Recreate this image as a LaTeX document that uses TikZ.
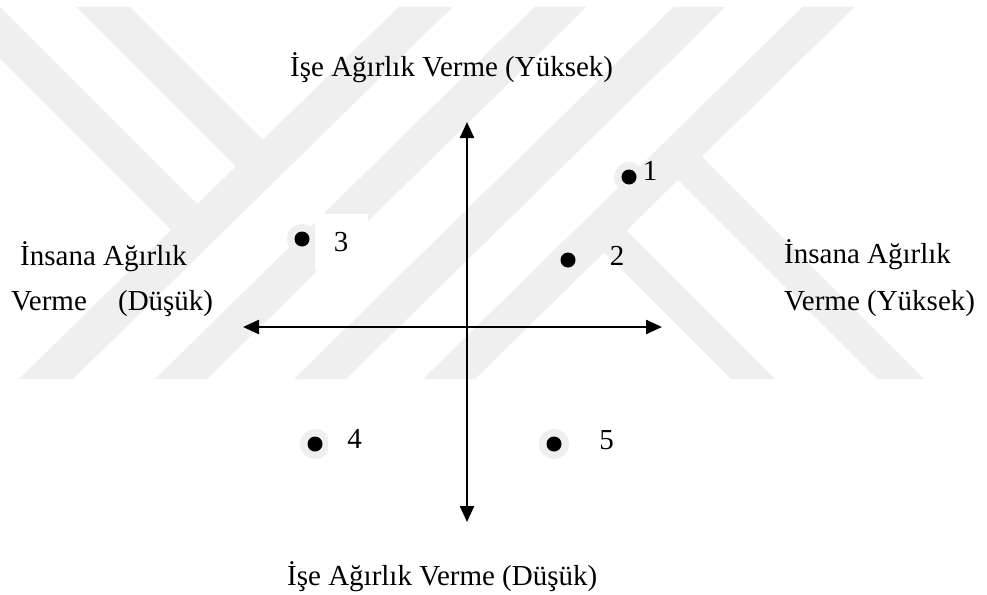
\documentclass[tikz,border=0pt]{standalone}
\usepackage{fontspec}
\setmainfont{Liberation Serif}
\usetikzlibrary{arrows.meta}
\definecolor{wm}{RGB}{239,239,239}
\begin{document}
\begin{tikzpicture}[x=1pt,y=-1pt,
  lbl/.style={inner sep=0pt, font=\fontsize{29}{34}\selectfont},
  numbox/.style={lbl, fill=white, minimum width=53pt, minimum height=57pt},
  axisline/.style={line width=2.4pt, {Triangle[length=16pt,width=14pt]}-{Triangle[length=16pt,width=14pt]}},
  dot/.style={circle, fill=black, inner sep=0pt, minimum size=15pt, preaction={draw=wm, line width=15pt}},
  wmband/.style={fill=wm}]
\useasboundingbox (0,0) rectangle (987,594);
\fill[white] (0,0) rectangle (987,594);
% faint background watermark
\begin{scope}
\clip (0,0) rectangle (987,594);
\fill[wmband] (19,379) -- (73,379) -- (452.4,7) -- (398.4,7) -- cycle;
\fill[wmband] (155,379) -- (207,379) -- (586.4,7) -- (534.4,7) -- cycle;
\fill[wmband] (294,379) -- (346,379) -- (725.4,7) -- (673.4,7) -- cycle;
\fill[wmband] (423,379) -- (475,379) -- (854.4,7) -- (802.4,7) -- cycle;
\fill[wmband] (-52,7) -- (0,7) -- (210.6,217.6) -- (184.4,243.4) -- cycle;
\fill[wmband] (76,7) -- (130,7) -- (276.3,153.3) -- (248.9,179.9) -- cycle;
\fill[wmband] (688.4,143.4) -- (664.6,166.6) -- (877,379) -- (924,379) -- cycle;
\fill[wmband] (613.1,217.1) -- (590.9,238.9) -- (731,379) -- (775,379) -- cycle;
\end{scope}
% axes
\coordinate (T) at (467,122);
\coordinate (B) at (467,522);
\coordinate (L) at (243,327);
\coordinate (R) at (662,327);
\draw[axisline] (B) -- (T);
\draw[axisline] (L) -- (R);
% axis labels
\node[lbl, anchor=base west] (top) at (290,77) {İşe Ağırlık Verme (Yüksek)};
\node[lbl, anchor=base west] (bot) at (287,585) {İşe Ağırlık Verme (Düşük)};
\node[lbl, anchor=base west] (lA) at (20,265) {İnsana Ağırlık};
\node[lbl, anchor=base west] (lB) at (11,310) {Verme\hspace{24pt} (Düşük)};
\node[lbl, anchor=base west] (rA) at (784,263) {İnsana Ağırlık};
\node[lbl, anchor=base west] (rB) at (784,310) {Verme (Yüksek)};
% points
\node[dot] (p1) at (629,177) {};
\node[dot] (p2) at (568,260) {};
\node[dot] (p3) at (302,239) {};
\node[dot] (p4) at (315,444) {};
\node[dot] (p5) at (554,444) {};
\node[lbl, anchor=base] (n1) at (650,180) {1};
\node[lbl, anchor=base] (n2) at (617,265) {2};
\node[numbox] (n3) at (341,242) {3};
\node[numbox] (n4) at (354.5,439) {4};
\node[lbl, anchor=base] (n5) at (606.5,449) {5};
\end{tikzpicture}
\end{document}
